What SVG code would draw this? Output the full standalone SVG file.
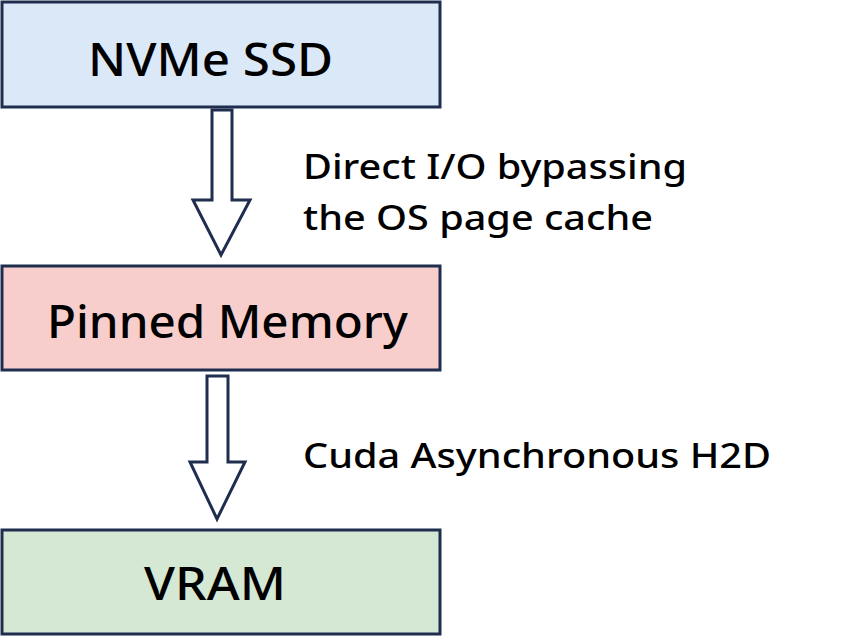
<svg xmlns="http://www.w3.org/2000/svg" width="842" height="642" viewBox="0 0 842 642">
<style>
.box{stroke:#1f2d4e;stroke-width:3}
.arr{fill:#fff;stroke:#1f2d4e;stroke-width:3;stroke-linejoin:miter}
.big{font-family:"Noto Sans","Open Sans",sans-serif;font-size:45px;font-weight:500;fill:#000}
.lbl{font-family:"Noto Sans","Open Sans",sans-serif;font-size:35px;font-weight:500;fill:#000}
</style>
<rect width="842" height="642" fill="#fff"/>
<g id="nvme"><rect class="box" x="2" y="2" width="438" height="105" fill="#dae8f8"/><text class="big" x="88" y="76" textLength="245" lengthAdjust="spacingAndGlyphs">NVMe SSD</text></g>
<g id="pinned"><rect class="box" x="2" y="266" width="438" height="104" fill="#f8cecc"/><text class="big" x="47" y="338" textLength="361" lengthAdjust="spacingAndGlyphs">Pinned Memory</text></g>
<g id="vram"><rect class="box" x="2" y="530" width="438" height="104" fill="#d5e8d4"/><text class="big" x="144" y="600" textLength="142" lengthAdjust="spacingAndGlyphs">VRAM</text></g>
<g id="connectors">
<polygon class="arr" points="212,110 232,110 232,200 250,200 221,255 193,200 212,200"/>
<polygon class="arr" points="207,376 228,376 228,462 245,462 217,519 190,462 207,462"/>
</g>
<g id="labels">
<text class="lbl" x="303" y="179" textLength="384" lengthAdjust="spacingAndGlyphs">Direct I/O bypassing</text>
<text class="lbl" x="303" y="230" textLength="350" lengthAdjust="spacingAndGlyphs">the OS page cache</text>
<text class="lbl" x="303" y="468" textLength="468" lengthAdjust="spacingAndGlyphs">Cuda Asynchronous H2D</text>
</g>
</svg>
